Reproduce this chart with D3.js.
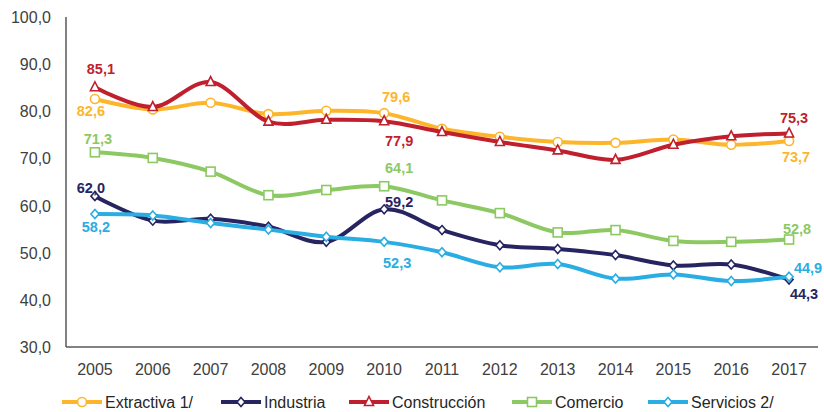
<!DOCTYPE html>
<html>
<head>
<meta charset="utf-8">
<script src="https://cdn.jsdelivr.net/npm/d3@7"></script>
<style>
  body { margin: 0; background: #fff; }
  svg { font-family: "Liberation Sans", Arial, sans-serif; }
</style>
</head>
<body>
<div id="container"></div>
<script>
const WIDTH = 824;
const HEIGHT = 412;

// datos
const years = [2005, 2006, 2007, 2008, 2009, 2010, 2011, 2012, 2013, 2014, 2015, 2016, 2017];
const extractiva   = [82.6, 80.4, 81.8, 79.4, 80.1, 79.6, 76.3, 74.6, 73.5, 73.3, 74.0, 72.9, 73.7];
const industria    = [62.0, 56.8, 57.2, 55.5, 52.3, 59.2, 54.8, 51.6, 50.8, 49.5, 47.3, 47.5, 44.3];
const construccion = [85.1, 80.9, 86.2, 77.8, 78.2, 77.9, 75.6, 73.5, 71.7, 69.7, 72.9, 74.7, 75.3];
const comercio     = [71.3, 70.1, 67.2, 62.2, 63.3, 64.1, 61.1, 58.4, 54.3, 54.8, 52.5, 52.3, 52.8];
const servicios    = [58.2, 57.9, 56.3, 54.9, 53.4, 52.3, 50.1, 46.9, 47.6, 44.5, 45.4, 44.0, 44.9];
const yTicks = [30, 40, 50, 60, 70, 80, 90, 100];
const seriesNames = ['Extractiva 1/', 'Industria', 'Construcción', 'Comercio', 'Servicios 2/'];

const series = [
  { name: seriesNames[0], values: extractiva,   color: '#FDB62B', marker: 'circle' },
  { name: seriesNames[1], values: industria,    color: '#262461', marker: 'diamond' },
  { name: seriesNames[2], values: construccion, color: '#C01F2E', marker: 'triangle' },
  { name: seriesNames[3], values: comercio,     color: '#8CC963', marker: 'square' },
  { name: seriesNames[4], values: servicios,    color: '#2AADE3', marker: 'diamond' }
];

// etiquetas visibles: [serie, índice de año, dx, dy]
const labels = [
  [2, 0, 6, -18], [0, 0, -4, 12], [3, 0, 3, -13], [1, 0, -4, -8], [4, 0, 1, 13],
  [0, 5, 12, -16], [2, 5, 15, 20], [3, 5, 15, -18], [1, 5, 15, -7], [4, 5, 13, 21],
  [2, 12, 5, -15], [0, 12, 7, 16], [3, 12, 8, -11], [4, 12, 19, -9], [1, 12, 15, 14]
];

const svg = d3.select('#container')
  .append('svg')
    .attr('width', WIDTH)
    .attr('height', HEIGHT);

const x = d3.scaleBand()
  .domain(years)
  .range([66, 818]);

const y = d3.scaleLinear()
  .domain([30, 100])
  .range([347, 17]);

const cx = yr => x(yr) + x.bandwidth() / 2;

// ejes
svg.append('line')
  .attr('x1', 66).attr('x2', 66)
  .attr('y1', y(100)).attr('y2', y(30))
  .attr('stroke', '#595959').attr('stroke-width', 1.5);
svg.append('line')
  .attr('x1', 66).attr('x2', 818)
  .attr('y1', y(30)).attr('y2', y(30))
  .attr('stroke', '#595959').attr('stroke-width', 1.5);

svg.selectAll('.ytick')
  .data(yTicks)
  .enter()
  .append('text')
    .attr('class', 'ytick')
    .attr('x', 51)
    .attr('y', d => y(d) + 6)
    .attr('text-anchor', 'end')
    .attr('font-size', 16)
    .attr('fill', '#404040')
    .text(d => d3.format('.1f')(d).replace('.', ','));

svg.selectAll('.xtick')
  .data(years)
  .enter()
  .append('text')
    .attr('class', 'xtick')
    .attr('x', d => cx(d))
    .attr('y', 375)
    .attr('text-anchor', 'middle')
    .attr('font-size', 16)
    .attr('fill', '#404040')
    .text(d => d);

const line = d3.line()
  .x((d, i) => cx(years[i]))
  .y(d => y(d))
  .curve(d3.curveCardinal.tension(0));

const drawMarker = (g, type, color, px, py) => {
  const s = 4.5;
  let m;
  if (type === 'circle') {
    m = g.append('circle').attr('cx', px).attr('cy', py).attr('r', s);
  } else if (type === 'square') {
    m = g.append('rect').attr('x', px - s).attr('y', py - s).attr('width', 2 * s).attr('height', 2 * s);
  } else if (type === 'triangle') {
    m = g.append('path').attr('d', `M${px},${py - s - 1}L${px + s},${py + s - 1}L${px - s},${py + s - 1}Z`);
  } else {
    m = g.append('path').attr('d', `M${px},${py - s}L${px + s - 0.5},${py}L${px},${py + s}L${px - s + 0.5},${py}Z`);
  }
  m.attr('fill', '#fff').attr('stroke', color).attr('stroke-width', 1.6);
};

series.forEach(s => {
  const g = svg.append('g');
  g.append('path')
    .datum(s.values)
    .attr('d', line)
    .attr('fill', 'none')
    .attr('stroke', s.color)
    .attr('stroke-width', 4)
    .attr('stroke-linejoin', 'round');
  s.values.forEach((v, i) => drawMarker(g, s.marker, s.color, cx(years[i]), y(v)));
});

// etiquetas de datos
svg.selectAll('.dlabel')
  .data(labels)
  .enter()
  .append('text')
    .attr('class', 'dlabel')
    .attr('x', d => cx(years[d[1]]) + d[2])
    .attr('y', d => y(series[d[0]].values[d[1]]) + d[3] + 5)
    .attr('text-anchor', 'middle')
    .attr('font-size', 14.5)
    .attr('font-weight', 'bold')
    .attr('fill', d => series[d[0]].color)
    .text(d => d3.format('.1f')(series[d[0]].values[d[1]]).replace('.', ','));

// leyenda
const legendX = [62, 221, 349, 512, 648];
const legend = svg.selectAll('.legend')
  .data(series)
  .enter()
  .append('g')
    .attr('class', 'legend');

legend.each(function(s, i) {
  const g = d3.select(this);
  const lx = legendX[i];
  g.append('line')
    .attr('x1', lx).attr('x2', lx + 40)
    .attr('y1', 402).attr('y2', 402)
    .attr('stroke', s.color).attr('stroke-width', 4);
  drawMarker(g, s.marker, s.color, lx + 20, 402);
  g.append('text')
    .attr('x', lx + 43)
    .attr('y', 408)
    .attr('font-size', 16)
    .attr('fill', '#262626')
    .text(s.name);
});
</script>
</body>
</html>
